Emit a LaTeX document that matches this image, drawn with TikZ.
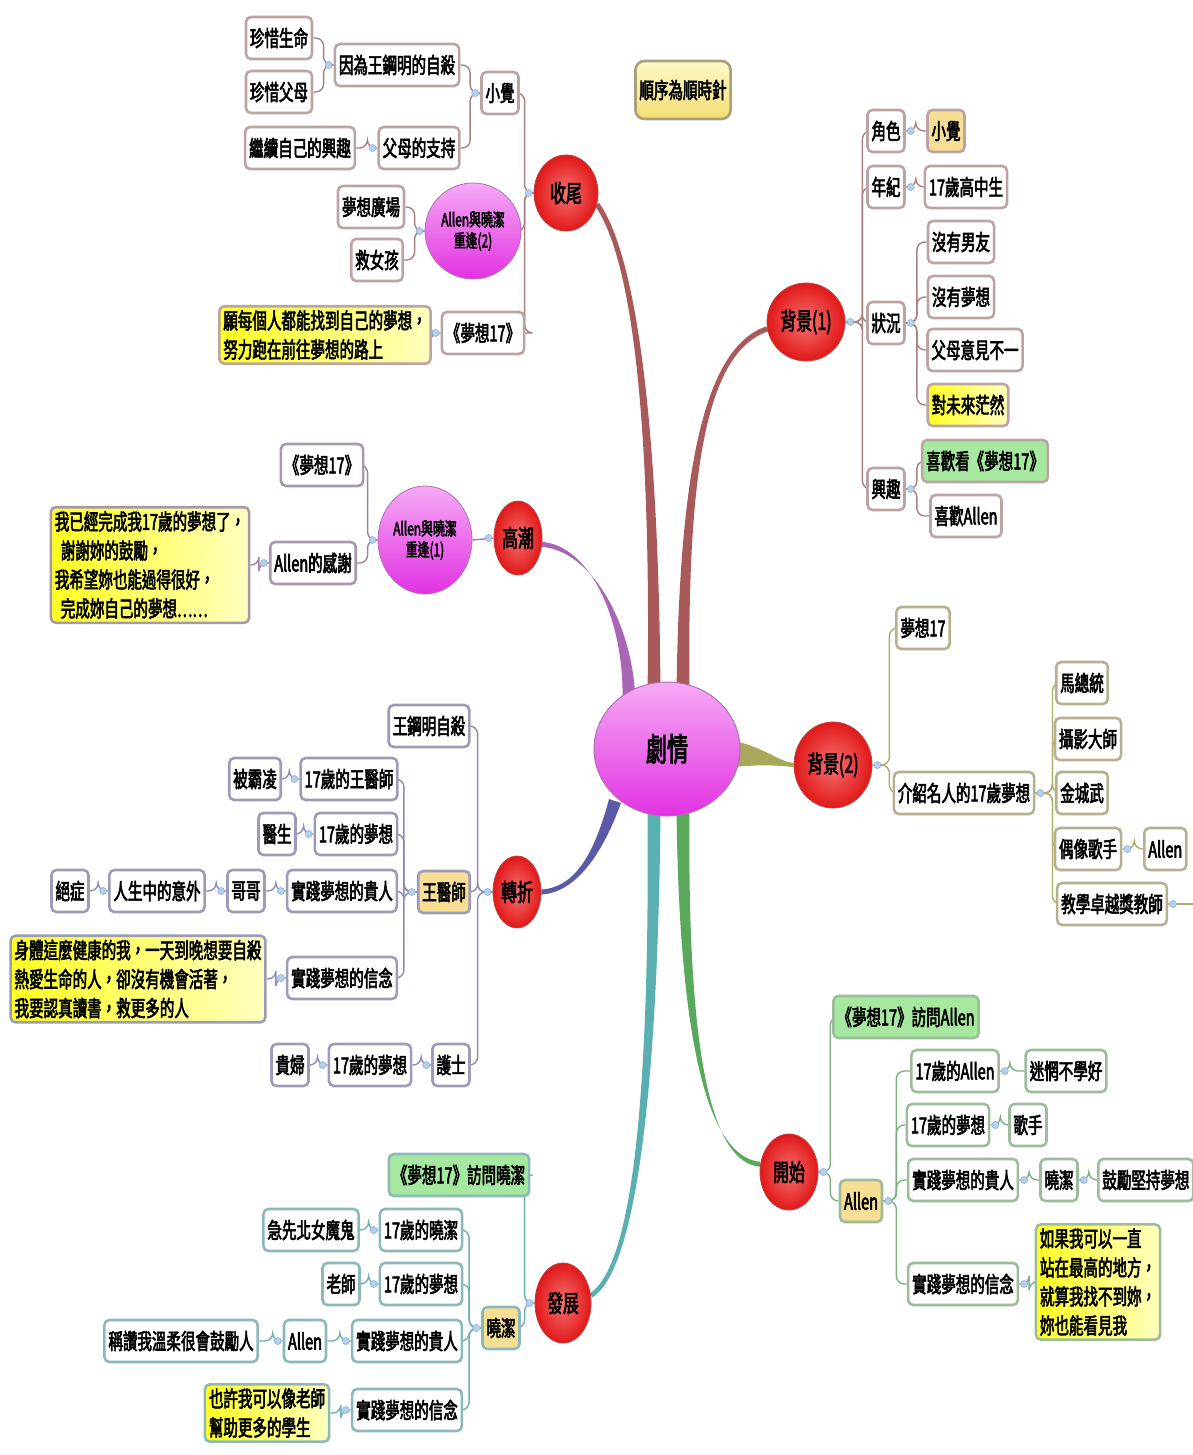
\documentclass[tikz,border=0pt]{standalone}
\usepackage{fontspec}
\newfontfamily\cjk{Noto Sans CJK TC}[FakeStretch=0.66,FakeBold=2.6]
\usetikzlibrary{shapes.geometric,calc}
\pgfdeclarelayer{back}
\pgfdeclarelayer{bg}
\pgfsetlayers{back,bg,main}
\definecolor{lnA}{HTML}{A88080}
\definecolor{bdA}{HTML}{BCA4A4}
\definecolor{lnP}{HTML}{A080A8}
\definecolor{bdP}{HTML}{A898AC}
\definecolor{lnO}{HTML}{B0AC70}
\definecolor{bdO}{HTML}{B4B090}
\definecolor{lnB}{HTML}{8C8CB8}
\definecolor{bdB}{HTML}{9C9CB8}
\definecolor{lnG}{HTML}{80B080}
\definecolor{bdG}{HTML}{9CBC9C}
\definecolor{lnT}{HTML}{70B0B0}
\definecolor{bdT}{HTML}{8CB8B8}
\definecolor{brA}{HTML}{A85A5A}
\definecolor{brP}{HTML}{A866B4}
\definecolor{brO}{HTML}{A8A85A}
\definecolor{brB}{HTML}{5A5AA8}
\definecolor{brG}{HTML}{5AA85A}
\definecolor{brT}{HTML}{5AB0B0}
\definecolor{redIn}{HTML}{F87070}
\definecolor{redOut}{HTML}{E01818}
\definecolor{redBd}{HTML}{C04040}
\definecolor{magT}{HTML}{F6AAF6}
\definecolor{magB}{HTML}{E232E2}
\definecolor{magBd}{HTML}{B070B0}
\definecolor{goldF}{HTML}{F6DE94}
\definecolor{yelL}{HTML}{FFFF20}
\definecolor{yelR}{HTML}{FFFFC0}
\definecolor{grnF}{HTML}{A6E8A0}
\definecolor{noteT}{HTML}{FFF8C8}
\definecolor{noteB}{HTML}{F2DE72}
\definecolor{noteBd}{HTML}{A8A078}
\definecolor{mkF}{HTML}{B4D0EC}
\definecolor{mkD}{HTML}{8CB0D8}
\newcommand\Lk[4]{\draw[lk=#4] (#1.west) -- ++(-#3,0) |- (#2.east);}
\newcommand\Rk[4]{\draw[lk=#4] (#1.east) -- ++(#3,0) |- (#2.west);}
\newcommand\mkL[1]{\path[mk] ($(#1.west)+(-5,0)$) circle (3.5);}
\newcommand\mkR[1]{\path[mk] ($(#1.east)+(5,0)$) circle (3.5);}
\newcommand\branch[7]{\fill[#1] ($#2+#3$) .. controls ($#4+0.6*#3$) and ($#5+#7$) .. ($#6+#7$) -- ($#6-#7$) .. controls ($#5-#7$) and ($#4-0.6*#3$) .. ($#2-#3$) -- cycle;}
\begin{document}
\begin{tikzpicture}[x=1pt,y=-1pt,
  font=\cjk\fontsize{22}{24}\selectfont,
  box/.style={draw=#1, line width=2.6pt, rounded corners=5pt, fill=white, inner xsep=4pt, inner ysep=2pt, minimum height=42pt},
  goldbox/.style={box=#1, fill=goldF},
  grnbox/.style={box=#1, fill=grnF},
  yelbox/.style={box=#1, left color=yelL, right color=yelR, align=left, font=\cjk\fontsize{22}{29}\selectfont, inner xsep=4pt, inner ysep=4pt},
  topic/.style={ellipse, draw=redBd, line width=0.8pt, inner color=redIn, outer color=redOut, inner sep=0pt, font=\cjk\fontsize{24}{26}\selectfont},
  mag/.style={ellipse, draw=magBd, line width=0.8pt, top color=magT, bottom color=magB, inner sep=0pt, align=center, font=\cjk\fontsize{18}{21}\selectfont},
  lk/.style={draw=#1, line width=1.4pt, rounded corners=8pt},
  mk/.style={fill=mkF, draw=mkD, line width=0.6pt}
]
\useasboundingbox (0,0) rectangle (1192,1455);
\begin{pgfonlayer}{back}
\fill[white] (0,0) rectangle (1192,1455);
\end{pgfonlayer}

% centre
\node[ellipse, draw=magBd, line width=1pt, top color=magT, bottom color=magB, minimum width=146, minimum height=134, font=\cjk\fontsize{32}{34}\selectfont] (plot) at (667,749) {劇情};

% note
\node[box=noteBd, top color=noteT, bottom color=noteB, minimum height=58, rounded corners=9pt] (note) at (683,90) {順序為順時針};

% ---- 收尾
\node[topic, minimum width=64, minimum height=76] (sw) at (566,193) {收尾};
\node[box=bdA] (swxj) at (500,93) {小覺};
\node[box=bdA] (swyw) at (397,65) {因為王鋼明的自殺};
\node[box=bdA] (swzs) at (279,38) {珍惜生命};
\node[box=bdA] (swzf) at (279,92) {珍惜父母};
\node[box=bdA] (swfm) at (419,148) {父母的支持};
\node[box=bdA] (swjx) at (300,148) {繼續自己的興趣};
\node[mag, minimum width=96, minimum height=96] (swar) at (473,231) {Allen與曉潔\\重逢(2)};
\node[box=bdA] (swmx) at (371,207) {夢想廣場};
\node[box=bdA] (swjn) at (377,260) {救女孩};
\node[box=bdA] (swm) at (483,333) {《夢想17》};
\node[yelbox=bdA] (swy) at (325,335) {願每個人都能找到自己的夢想，\\努力跑在前往夢想的路上};

% ---- 背景(1)
\node[topic, minimum width=78, minimum height=78] (bj1) at (806,322) {背景(1)};
\node[box=bdA] (b1js) at (886,131) {角色};
\node[goldbox=bdA] (b1xj) at (946,131) {小覺};
\node[box=bdA] (b1nj) at (886,187) {年紀};
\node[box=bdA] (b1gz) at (966,187) {17歲高中生};
\node[box=bdA] (b1zk) at (886,323) {狀況};
\node[box=bdA] (b1ny) at (961,242) {沒有男友};
\node[box=bdA] (b1nm) at (961,297) {沒有夢想};
\node[box=bdA] (b1fm) at (975,350) {父母意見不一};
\node[yelbox=bdA] (b1dw) at (968,405) {對未來茫然};
\node[box=bdA] (b1xq) at (886,489) {興趣};
\node[grnbox=bdA] (b1xk) at (985,461) {喜歡看《夢想17》};
\node[box=bdA] (b1xa) at (966,516) {喜歡Allen};

% ---- 高潮
\node[topic, minimum width=48, minimum height=74] (gc) at (518,538) {高潮};
\node[mag, minimum width=94, minimum height=108] (gcar) at (425,540) {Allen與曉潔\\重逢(1)};
\node[box=bdP] (gcm) at (322,465) {《夢想17》};
\node[box=bdP] (gcag) at (313,563) {Allen的感謝};
\node[yelbox=bdP] (gcy) at (150,565) {我已經完成我17歲的夢想了，\\\hspace{6pt}謝謝妳的鼓勵，\\我希望妳也能過得很好，\\\hspace{6pt}完成妳自己的夢想……};

% ---- 背景(2)
\node[topic, minimum width=78, minimum height=86] (bj2) at (833,765) {背景(2)};
\node[box=bdO] (b2m) at (923,628) {夢想17};
\node[box=bdO] (b2js) at (964,793) {介紹名人的17歲夢想};
\node[box=bdO] (b2a) at (1082,683) {馬總統};
\node[box=bdO] (b2b) at (1088,739) {攝影大師};
\node[box=bdO] (b2c) at (1082,793) {金城武};
\node[box=bdO] (b2d) at (1088,849) {偶像歌手};
\node[box=bdO] (b2e) at (1112,904) {教學卓越獎教師};
\node[box=bdO, anchor=west] (b2al) at (1143,849) {Allen};
\coordinate (b2end) at (1200,904);

% ---- 轉折
\node[topic, minimum width=48, minimum height=72] (zz) at (517,892) {轉折};
\node[box=bdB] (zzw) at (429,726) {王鋼明自殺};
\node[goldbox=bdB] (zzys) at (444,892) {王醫師};
\node[box=bdB] (zzhs) at (451,1065) {護士};
\node[box=bdB] (zza1) at (349,779) {17歲的王醫師};
\node[box=bdB] (zza2) at (356,834) {17歲的夢想};
\node[box=bdB] (zza3) at (342,891) {實踐夢想的貴人};
\node[box=bdB] (zza4) at (342,978) {實踐夢想的信念};
\node[box=bdB] (zzb1) at (255,779) {被霸凌};
\node[box=bdB] (zzb2) at (277,834) {醫生};
\node[box=bdB] (zzb3) at (246,891) {哥哥};
\node[box=bdB] (zzc3) at (157,891) {人生中的意外};
\node[box=bdB] (zzd3) at (70,891) {絕症};
\node[yelbox=bdB] (zzy) at (138,979) {身體這麼健康的我，一天到晚想要自殺\\熱愛生命的人，卻沒有機會活著，\\我要認真讀書，救更多的人};
\node[box=bdB] (zzh1) at (370,1065) {17歲的夢想};
\node[box=bdB] (zzh2) at (290,1065) {貴婦};

% ---- 開始
\node[topic, minimum width=58, minimum height=76] (ks) at (789,1172) {開始};
\node[grnbox=bdG] (ksm) at (906,1017) {《夢想17》訪問Allen};
\node[goldbox=bdG] (ksal) at (861,1201) {Allen};
\node[box=bdG] (ksa1) at (955,1071) {17歲的Allen};
\node[box=bdG] (ksa2) at (948,1125) {17歲的夢想};
\node[box=bdG] (ksa3) at (963,1180) {實踐夢想的貴人};
\node[box=bdG] (ksa4) at (963,1284) {實踐夢想的信念};
\node[box=bdG] (ksb1) at (1066,1071) {迷惘不學好};
\node[box=bdG] (ksb2) at (1028,1125) {歌手};
\node[box=bdG] (ksb3) at (1059,1180) {曉潔};
\node[box=bdG, anchor=west] (ksc3) at (1097,1180) {鼓勵堅持夢想};
\node[yelbox=bdG] (ksy) at (1098,1282) {如果我可以一直\\站在最高的地方，\\就算我找不到妳，\\妳也能看見我};

% ---- 發展
\node[topic, minimum width=56, minimum height=80] (fz) at (563,1303) {發展};
\node[grnbox=bdT] (fzm) at (459,1175) {《夢想17》訪問曉潔};
\node[goldbox=bdT] (fzxj) at (501,1328) {曉潔};
\node[box=bdT] (fza1) at (421,1230) {17歲的曉潔};
\node[box=bdT] (fza2) at (421,1284) {17歲的夢想};
\node[box=bdT] (fza3) at (407,1341) {實踐夢想的貴人};
\node[box=bdT] (fza4) at (407,1410) {實踐夢想的信念};
\node[box=bdT] (fzb1) at (311,1230) {急先北女魔鬼};
\node[box=bdT] (fzb2) at (341,1284) {老師};
\node[box=bdT] (fzb3) at (305,1341) {Allen};
\node[box=bdT] (fzc3) at (181,1341) {稱讚我溫柔很會鼓勵人};
\node[yelbox=bdT] (fzy) at (267,1413) {也許我可以像老師\\幫助更多的學生};

% ---- connectors
\begin{pgfonlayer}{bg}
\coordinate (s1) at ($(plot)+(-13,-55)$);
\coordinate (s2) at ($(plot)+(16,-55)$);
\coordinate (s3) at ($(plot)+(-38,-50)$);
\coordinate (s4) at ($(plot)+(68,5)$);
\coordinate (s5) at ($(plot)+(-52,52)$);
\coordinate (s6) at ($(plot)+(16,58)$);
\coordinate (s7) at ($(plot)+(-13,58)$);
\branch{brA}{(s1)}{(6.5,0)}{(655,450)}{(638,262)}{(sw.-20)}{(2,-1.5)}
\branch{brA}{(s2)}{(6.5,0)}{(683,470)}{(705,350)}{(bj1.190)}{(1,2.4)}
\branch{brP}{(s3)}{(6.5,0)}{(628,620)}{(590,548)}{(gc.-15)}{(0,2.5)}
\branch{brO}{(s4)}{(0,13)}{(765,756)}{(780,764)}{(bj2.west)}{(0,2)}
\branch{brB}{(s5)}{(6,2)}{(598,855)}{(575,890)}{(zz.east)}{(0,2.5)}
\branch{brG}{(s6)}{(6.5,0)}{(683,1060)}{(712,1160)}{(ks.165)}{(0,2.5)}
\branch{brT}{(s7)}{(6.5,0)}{(654,1110)}{(632,1270)}{(fz.15)}{(1.3,2.1)}

% 收尾
\Lk{sw}{swxj}{9}{lnA} \Lk{sw}{swar}{9}{lnA} \Lk{sw}{swm}{9}{lnA}
\Lk{swxj}{swyw}{10}{lnA} \Lk{swxj}{swfm}{10}{lnA}
\Lk{swyw}{swzs}{10}{lnA} \Lk{swyw}{swzf}{10}{lnA}
\Lk{swfm}{swjx}{10}{lnA}
\Lk{swar}{swmx}{10}{lnA} \Lk{swar}{swjn}{10}{lnA}
\Lk{swm}{swy}{10}{lnA}
% 背景(1)
\Rk{bj1}{b1js}{17}{lnA} \Rk{bj1}{b1nj}{17}{lnA} \Rk{bj1}{b1zk}{17}{lnA} \Rk{bj1}{b1xq}{17}{lnA}
\Rk{b1js}{b1xj}{10}{lnA} \Rk{b1nj}{b1gz}{10}{lnA}
\Rk{b1zk}{b1ny}{11}{lnA} \Rk{b1zk}{b1nm}{11}{lnA} \Rk{b1zk}{b1fm}{11}{lnA} \Rk{b1zk}{b1dw}{11}{lnA}
\Rk{b1xq}{b1xk}{11}{lnA} \Rk{b1xq}{b1xa}{11}{lnA}
% 高潮
\draw[lk=lnP] (gc.west) -- (gcar.east);
\Lk{gcar}{gcm}{10}{lnP} \Lk{gcar}{gcag}{10}{lnP}
\Lk{gcag}{gcy}{10}{lnP}
% 背景(2)
\Rk{bj2}{b2m}{17}{lnO} \Rk{bj2}{b2js}{17}{lnO}
\Rk{b2js}{b2a}{17}{lnO} \Rk{b2js}{b2b}{17}{lnO} \Rk{b2js}{b2c}{17}{lnO} \Rk{b2js}{b2d}{17}{lnO} \Rk{b2js}{b2e}{17}{lnO}
\Rk{b2d}{b2al}{12}{lnO}
\draw[lk=lnO] (b2e.east) -- (b2end);
% 轉折
\Lk{zz}{zzw}{15}{lnB} \Lk{zz}{zzys}{15}{lnB} \Lk{zz}{zzhs}{15}{lnB}
\Lk{zzys}{zza1}{13}{lnB} \Lk{zzys}{zza2}{13}{lnB} \Lk{zzys}{zza3}{13}{lnB} \Lk{zzys}{zza4}{13}{lnB}
\Lk{zza1}{zzb1}{10}{lnB} \Lk{zza2}{zzb2}{10}{lnB} \Lk{zza3}{zzb3}{10}{lnB}
\Lk{zzb3}{zzc3}{10}{lnB} \Lk{zzc3}{zzd3}{10}{lnB}
\Lk{zza4}{zzy}{10}{lnB}
\Lk{zzhs}{zzh1}{10}{lnB} \Lk{zzh1}{zzh2}{10}{lnB}
% 開始
\Rk{ks}{ksm}{12}{lnG} \Rk{ks}{ksal}{12}{lnG}
\Rk{ksal}{ksa1}{13}{lnG} \Rk{ksal}{ksa2}{13}{lnG} \Rk{ksal}{ksa3}{13}{lnG} \Rk{ksal}{ksa4}{13}{lnG}
\Rk{ksa1}{ksb1}{10}{lnG} \Rk{ksa2}{ksb2}{10}{lnG} \Rk{ksa3}{ksb3}{10}{lnG}
\Rk{ksb3}{ksc3}{10}{lnG} \Rk{ksa4}{ksy}{10}{lnG}
% 發展
\Lk{fz}{fzm}{10}{lnT} \Lk{fz}{fzxj}{10}{lnT}
\Lk{fzxj}{fza1}{12}{lnT} \Lk{fzxj}{fza2}{12}{lnT} \Lk{fzxj}{fza3}{12}{lnT} \Lk{fzxj}{fza4}{12}{lnT}
\Lk{fza1}{fzb1}{10}{lnT} \Lk{fza2}{fzb2}{10}{lnT} \Lk{fza3}{fzb3}{11}{lnT}
\Lk{fzb3}{fzc3}{10}{lnT} \Lk{fza4}{fzy}{10}{lnT}
\end{pgfonlayer}

% markers
\mkL{sw} \mkL{swxj} \mkL{swyw} \mkL{swfm} \mkL{swar} \mkL{swm}
\mkR{bj1} \mkR{b1js} \mkR{b1nj} \mkR{b1zk} \mkR{b1xq}
\mkL{gc} \mkL{gcar} \mkL{gcag}
\mkR{bj2} \mkR{b2js} \mkR{b2d} \mkR{b2e}
\mkL{zz} \mkL{zzys} \mkL{zza1} \mkL{zza2} \mkL{zza3} \mkL{zzb3} \mkL{zzc3} \mkL{zza4} \mkL{zzhs} \mkL{zzh1}
\mkR{ks} \mkR{ksal} \mkR{ksa1} \mkR{ksa2} \mkR{ksa3} \mkR{ksb3} \mkR{ksa4}
\mkL{fz} \mkL{fzxj} \mkL{fza1} \mkL{fza2} \mkL{fza3} \mkL{fzb3} \mkL{fza4}
\end{tikzpicture}
\end{document}
